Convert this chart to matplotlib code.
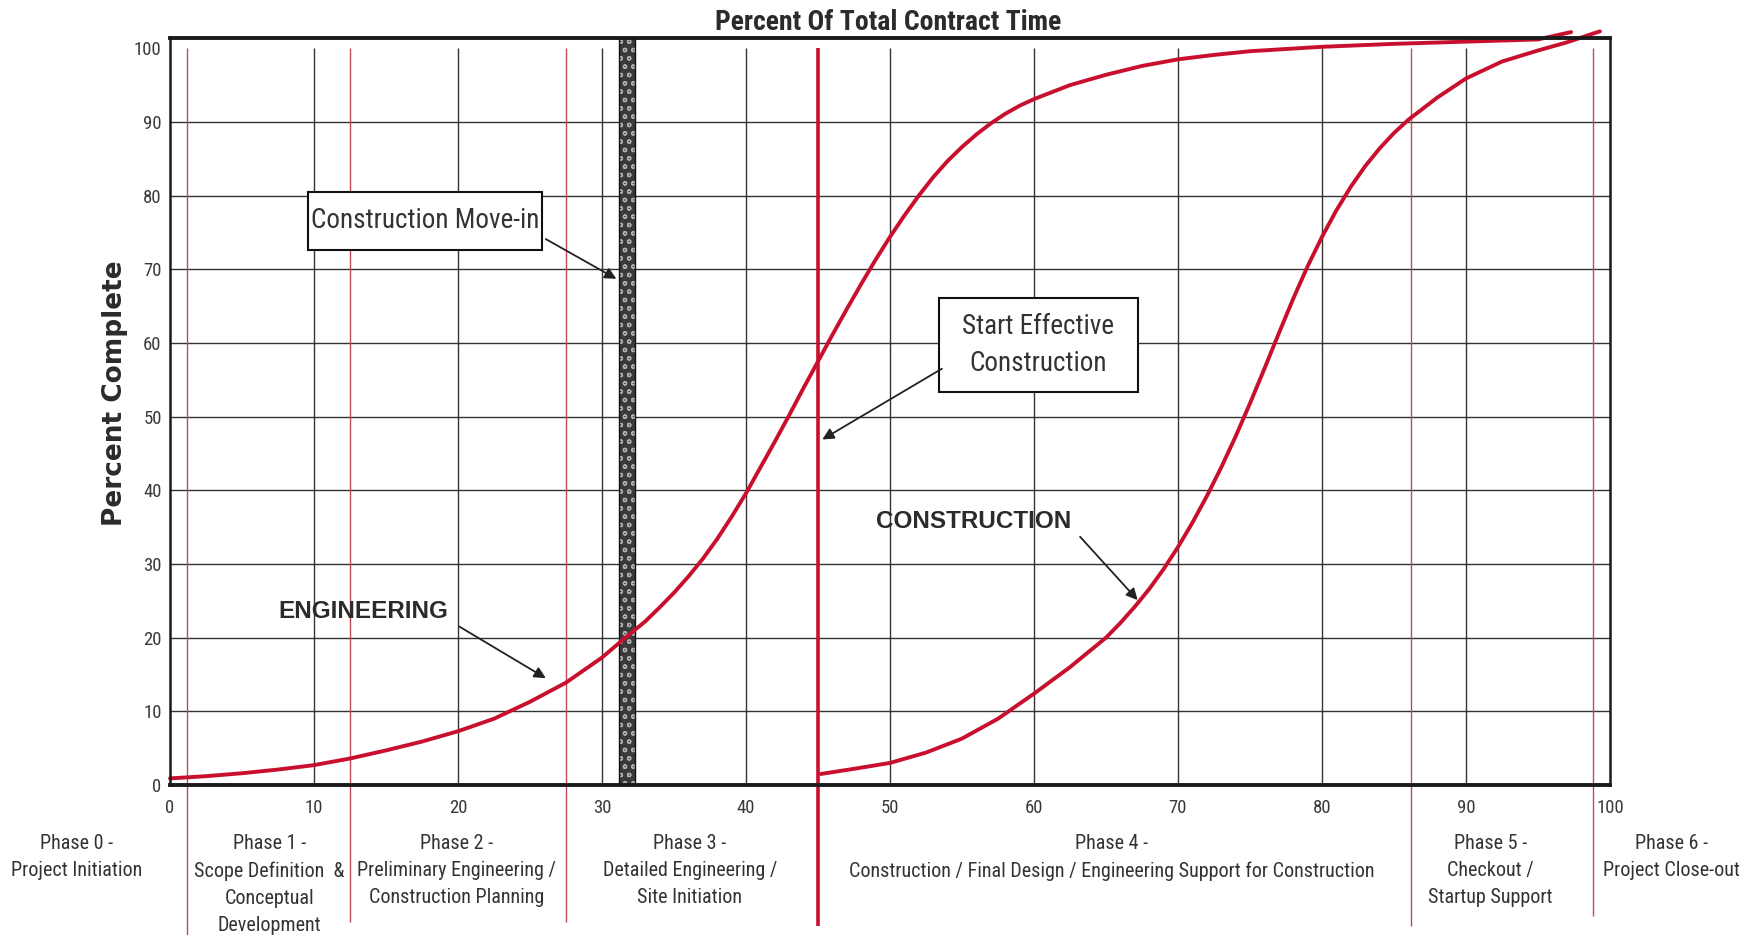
"""S-curve of engineering and construction progress against contract time, by project phase."""

import matplotlib

matplotlib.use("Agg")
import matplotlib.pyplot as plt
from matplotlib.patches import Rectangle

# percent of total contract time -> percent complete
ENG_X = [0, 2.5, 5, 7.5, 10, 12.5, 15, 17.5, 20, 22.5, 25, 27.5, 30, 31.5, 33, 34, 35, 36,
         37, 38, 39, 40, 41, 42, 43, 44, 45, 46, 47, 48, 49, 50, 51, 52, 53, 54, 55, 56,
         57, 58, 59, 60, 62.5, 65, 67.5, 70, 72.5, 75, 80, 85, 90, 95, 97.3]
ENG_Y = [0.9, 1.2, 1.6, 2.1, 2.7, 3.6, 4.7, 5.9, 7.3, 9.0, 11.3, 13.9, 17.3, 19.8, 22.2, 24.1,
         26.1, 28.3, 30.7, 33.4, 36.4, 39.6, 43.1, 46.6, 50.2, 53.9, 57.5, 61.1, 64.6, 68.0,
         71.3, 74.4, 77.3, 80.0, 82.5, 84.7, 86.6, 88.3, 89.8, 91.1, 92.2, 93.1, 95.0, 96.4,
         97.6, 98.5, 99.1, 99.6, 100.2, 100.6, 100.9, 101.2, 102.2]

CON_X = [45.2, 47.5, 50, 52.5, 55, 57.5, 60, 62.5, 65, 66, 67, 68, 69, 70, 71, 72, 73, 74,
         75, 76, 77, 78, 79, 80, 81, 82, 83, 84, 85, 86, 88, 90, 92.5, 95, 97, 99.3]
CON_Y = [1.5, 2.2, 3.0, 4.4, 6.3, 9.0, 12.4, 16.0, 20.0, 22.0, 24.2, 26.6, 29.3, 32.3, 35.6,
         39.2, 43.1, 47.3, 51.8, 56.5, 61.3, 66.0, 70.4, 74.4, 78.0, 81.2, 84.0, 86.4, 88.5,
         90.3, 93.3, 95.9, 98.2, 99.7, 100.8, 102.3]

PHASE_BOUNDS = [1.2, 12.5, 27.5, 86.2, 98.8]
START_CONSTRUCTION = 45.0
MOVE_IN = (31.2, 32.3)

PHASE_X = [-6.5, 6.9, 19.9, 36.1, 65.4, 91.7, 104.3]
PHASE_LABELS = [
    "Phase 0 -\nProject Initiation",
    "Phase 1 -\nScope Definition  &\nConceptual\nDevelopment",
    "Phase 2 -\nPreliminary Engineering /\nConstruction Planning",
    "Phase 3 -\nDetailed Engineering /\nSite Initiation",
    "Phase 4 -\nConstruction / Final Design / Engineering Support for Construction",
    "Phase 5 -\nCheckout /\nStartup Support",
    "Phase 6 -\nProject Close-out",
]

TICKS = list(range(0, 101, 10))
GRID = list(range(10, 100, 10))

NARROW = ["Roboto Condensed", "Liberation Sans"]
RED = "#c8102e"
THIN_RED = "#c4475a"
INK = "#2b2b2b"

plt.rcParams["hatch.linewidth"] = 0.9

fig = plt.figure(figsize=(17.58, 9.35), dpi=100)
ax = fig.add_axes([0.0967, 0.1604, 0.8191, 0.799])
ax.set_xlim(0, 100)
ax.set_ylim(0, 101.4)

# grid
ax.hlines(GRID, 0, 100, colors="#333333", lw=1.0, zorder=1)
ax.vlines(GRID, 0, 100, colors="#333333", lw=1.0, zorder=1)

# phase boundaries run down into the label band
ax.vlines(PHASE_BOUNDS, [-20.5, -18.6, -18.6, -19.2, -17.8], 100,
          colors=THIN_RED, lw=1.0, zorder=2, clip_on=False)
ax.vlines(START_CONSTRUCTION, -19.2, 100, colors=RED, lw=2.6, zorder=4, clip_on=False)

# construction move-in bar
ax.axvspan(*MOVE_IN, facecolor="#3a3a3a", edgecolor="#b0b0b0", hatch="oo",
           lw=0, zorder=2)
ax.axvspan(*MOVE_IN, facecolor="none", edgecolor="#111111", lw=1.0, zorder=3)

# curves
for xs, ys in [(ENG_X, ENG_Y), (CON_X, CON_Y)]:
    ax.plot(xs, ys, color=RED, lw=2.8, solid_capstyle="round", solid_joinstyle="round",
            zorder=5, clip_on=False)

# axes cosmetics
for side, w in [("top", 2.8), ("bottom", 2.8), ("left", 1.8), ("right", 1.8)]:
    ax.spines[side].set_linewidth(w)
    ax.spines[side].set_color("#1a1a1a")
    ax.spines[side].set_zorder(6)
ax.set_xticks(TICKS)
ax.set_yticks(TICKS)
ax.tick_params(length=0, labelsize=13.5, labelcolor="#3a3a3a")
ax.tick_params(axis="x", pad=10)
ax.tick_params(axis="y", pad=6)
for lab in ax.get_xticklabels() + ax.get_yticklabels():
    lab.set_family(NARROW)

fig.text(0.505, 0.976, "Percent Of Total Contract Time", ha="center", va="center",
         fontsize=20, fontweight="bold", family=NARROW, color=INK)
fig.text(0.0655, 0.58, "Percent Complete", rotation=90, ha="center", va="center",
         fontsize=19, fontweight="bold", family="DejaVu Sans", color=INK)

# phase captions under the axis
for x, lab in zip(PHASE_X, PHASE_LABELS):
    ax.text(x, -6.6, lab, ha="center", va="top", fontsize=14.5, family=NARROW,
            color="#333333", linespacing=1.55, clip_on=False)

# curve labels
ax.text(13.4, 23.6, "ENGINEERING", ha="center", va="center", fontsize=17.5,
        fontweight="bold", family="Liberation Sans", color=INK, zorder=7)
ax.text(55.8, 35.8, "CONSTRUCTION", ha="center", va="center", fontsize=17.5,
        fontweight="bold", family="Liberation Sans", color=INK, zorder=7)

arrow = dict(arrowstyle="-|>", color="#222222", lw=1.3, mutation_scale=17,
             shrinkA=0, shrinkB=0)
ax.annotate("", xy=(26.1, 14.5), xytext=(20.1, 21.5), arrowprops=arrow, zorder=7)
ax.annotate("", xy=(67.2, 25.1), xytext=(63.2, 33.7), arrowprops=arrow, zorder=7)

# boxed callouts
for (x0, x1, y0, y1) in [(9.6, 25.8, 72.6, 80.5), (53.4, 67.2, 53.3, 66.1)]:
    ax.add_patch(Rectangle((x0, y0), x1 - x0, y1 - y0, fc="white", ec="#111111",
                           lw=1.5, zorder=7))
ax.text(17.7, 76.6, "Construction Move-in", ha="center", va="center", fontsize=19.5,
        family=NARROW, color="#333333", zorder=8)
ax.text(60.3, 59.7, "Start Effective\nConstruction", ha="center", va="center", fontsize=19.5,
        family=NARROW, color="#333333", linespacing=1.5, zorder=8)
ax.annotate("", xy=(31.0, 68.7), xytext=(26.1, 74.1), arrowprops=arrow, zorder=7)
ax.annotate("", xy=(45.3, 46.9), xytext=(53.6, 56.5), arrowprops=arrow, zorder=7)

fig.savefig("out.png", dpi=100, facecolor="white")
